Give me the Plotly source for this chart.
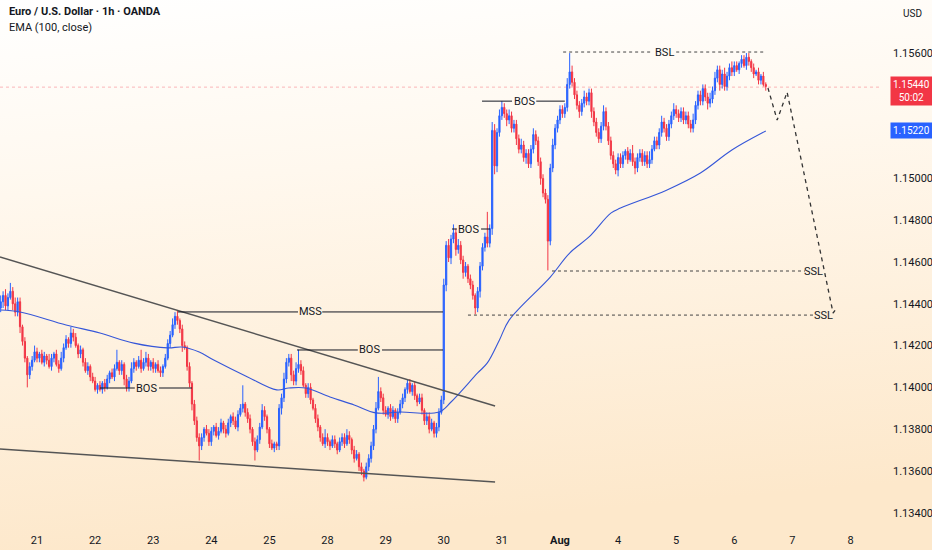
import base64
import plotly.graph_objects as go

# hourly candles, index 0 = 21 Jul 00:00, weekends removed
FIRST_OPEN = 1.1438
CLOSE = [
    # 18 Jul tail (i = -15 .. -1)
    1.1441, 1.1444, 1.1439, 1.1443, 1.1446, 1.1440, 1.1436, 1.1441, 1.1429, 1.1422, 1.1414, 1.1406, 1.1410, 1.1413, 1.1417,
    # 21
    1.1414, 1.1416, 1.1412, 1.1415, 1.1413, 1.1410, 1.1414, 1.1416, 1.1411, 1.1409, 1.1414, 1.1419,
    1.1423, 1.1421, 1.1426, 1.1424, 1.1420, 1.1416, 1.1418, 1.1412, 1.1408, 1.1410, 1.1405, 1.1403,
    # 22
    1.1399, 1.1401, 1.1399, 1.1402, 1.1400, 1.1404, 1.1407, 1.1405, 1.1409, 1.1412, 1.1408, 1.1411,
    1.1404, 1.1400, 1.1403, 1.1409, 1.1412, 1.1410, 1.1413, 1.1409, 1.1412, 1.1414, 1.1410, 1.1412,
    # 23
    1.1409, 1.1411, 1.1408, 1.1407, 1.1410, 1.1414, 1.1421, 1.1425, 1.1430, 1.1434, 1.1432, 1.1428,
    1.1420, 1.1419, 1.1410, 1.1402, 1.1392, 1.1384, 1.1376, 1.1372, 1.1376, 1.1380, 1.1378, 1.1374,
    # 24
    1.1379, 1.1381, 1.1377, 1.1379, 1.1383, 1.1380, 1.1378, 1.1383, 1.1386, 1.1384, 1.1381, 1.1387,
    1.1390, 1.1392, 1.1388, 1.1385, 1.1380, 1.1374, 1.1370, 1.1375, 1.1381, 1.1389, 1.1386, 1.1380,
    # 25
    1.1373, 1.1371, 1.1373, 1.1372, 1.1390, 1.1395, 1.1404, 1.1412, 1.1414, 1.1406, 1.1403, 1.1409,
    1.1411, 1.1408, 1.1401, 1.1397, 1.1400, 1.1394, 1.1390, 1.1385, 1.1381, 1.1376, 1.1373, 1.1376,
    # 28
    1.1374, 1.1372, 1.1375, 1.1373, 1.1370, 1.1374, 1.1376, 1.1373, 1.1377, 1.1375, 1.1370, 1.1366,
    1.1368, 1.1362, 1.1360, 1.1357, 1.1362, 1.1366, 1.1372, 1.1380, 1.1390, 1.1398, 1.1395, 1.1389,
    # 29
    1.1387, 1.1390, 1.1386, 1.1389, 1.1385, 1.1388, 1.1392, 1.1395, 1.1399, 1.1402, 1.1398, 1.1401,
    1.1396, 1.1393, 1.1395, 1.1389, 1.1384, 1.1386, 1.1380, 1.1383, 1.1378, 1.1381, 1.1388, 1.1394,
    # 30
    1.1449, 1.1468, 1.1462, 1.1471, 1.1474, 1.1466, 1.1468, 1.1461, 1.1455, 1.1458, 1.1452, 1.1449,
    1.1444, 1.1438, 1.1446, 1.1458, 1.1467, 1.1472, 1.1469, 1.1476, 1.1523, 1.1506, 1.1522, 1.1530,
    # 31
    1.1534, 1.1531, 1.1528, 1.1530, 1.1524, 1.1526, 1.1519, 1.1514, 1.1516, 1.1510, 1.1512, 1.1507,
    1.1514, 1.1521, 1.1518, 1.1508, 1.1500, 1.1493, 1.1490, 1.1470, 1.1505, 1.1516, 1.1524, 1.1528,
    # Aug 1
    1.1533, 1.1531, 1.1534, 1.1545, 1.1551, 1.1546, 1.1540, 1.1535, 1.1532, 1.1536, 1.1539, 1.1537,
    1.1541, 1.1532, 1.1527, 1.1522, 1.1519, 1.1525, 1.1532, 1.1525, 1.1518, 1.1511, 1.1507, 1.1504,
    # 4
    1.1510, 1.1507, 1.1511, 1.1513, 1.1509, 1.1512, 1.1508, 1.1505, 1.1510, 1.1512, 1.1508, 1.1511,
    1.1507, 1.1509, 1.1514, 1.1518, 1.1516, 1.1522, 1.1527, 1.1524, 1.1520, 1.1526, 1.1530, 1.1533,
    # 5
    1.1531, 1.1529, 1.1532, 1.1528, 1.1530, 1.1526, 1.1524, 1.1528, 1.1535, 1.1540, 1.1537, 1.1543,
    1.1539, 1.1536, 1.1538, 1.1542, 1.1548, 1.1552, 1.1545, 1.1550, 1.1544, 1.1549, 1.1553, 1.1551,
    # 6
    1.1554, 1.1552, 1.1555, 1.1557, 1.1554, 1.1558, 1.1556, 1.1553, 1.1550, 1.1551, 1.1547, 1.1549,
    1.1545, 1.1544,
]

# wick lengths in pips above / below the body
UP_WICK = [
    3, 2, 3, 2, 4, 2, 3, 2, 2, 1, 2, 1, 2, 2, 3,
    2, 1, 2, 2, 1, 3, 2, 1, 2, 2, 3, 2, 2, 1, 3, 2, 2, 1, 2, 1, 2, 2, 1, 2,
    2, 1, 2, 1, 2, 2, 1, 2, 2, 6, 1, 2, 1, 2, 2, 3, 2, 1, 2, 5, 2, 3, 2, 1,
    2, 1, 2, 2, 1, 2, 2, 2, 3, 2, 3, 1, 2, 2, 1, 2, 1, 2, 2, 2, 2, 1, 2, 2,
    2, 1, 2, 2, 2, 1, 2, 2, 1, 2, 2, 2, 2, 9, 1, 2, 2, 1, 2, 2, 2, 3, 2, 1,
    1, 2, 1, 1, 2, 2, 3, 2, 2, 2, 2, 3, 7, 2, 2, 1, 2, 2, 1, 2, 2, 1, 2, 4,
    2, 1, 2, 2, 1, 2, 2, 2, 3, 2, 1, 2, 2, 1, 2, 1, 2, 2, 2, 2, 3, 7, 2, 2,
    2, 1, 2, 2, 1, 2, 2, 2, 1, 2, 2, 1, 2, 1, 2, 2, 1, 2, 2, 2, 1, 2, 2, 2,
    3, 2, 3, 2, 4, 2, 3, 2, 2, 2, 1, 2, 2, 1, 2, 2, 2, 2, 12, 2, 4, 3, 2, 3,
    3, 2, 2, 3, 2, 2, 2, 2, 3, 2, 2, 2, 2, 3, 2, 2, 2, 2, 2, 2, 2, 3, 2, 2,
    2, 2, 2, 3, 9, 3, 2, 2, 2, 2, 3, 2, 2, 2, 2, 2, 2, 2, 3, 2, 2, 2, 2, 2,
    2, 2, 2, 1, 2, 2, 4, 2, 2, 2, 2, 2, 2, 4, 2, 2, 2, 2, 3, 2, 2, 2, 2, 3,
    2, 2, 2, 2, 2, 2, 2, 3, 2, 2, 2, 2, 2, 2, 3, 2, 3, 2, 2, 2, 3, 2, 2, 3,
    2, 2, 1, 2, 2, 2, 2, 1, 2, 1, 2, 1, 2, 1,
]
DN_WICK = [
    2, 3, 2, 2, 1, 3, 2, 2, 3, 2, 2, 6, 2, 2, 1,
    2, 2, 1, 2, 2, 1, 2, 2, 1, 2, 1, 2, 1, 2, 2, 2, 1, 2, 2, 2, 1, 2, 2, 1,
    1, 2, 1, 2, 2, 1, 2, 1, 2, 1, 2, 2, 3, 2, 2, 1, 2, 2, 1, 2, 1, 2, 2, 2,
    2, 2, 1, 2, 2, 1, 1, 2, 1, 2, 2, 2, 3, 1, 2, 2, 3, 2, 2, 7, 2, 2, 1, 2,
    2, 2, 1, 2, 1, 2, 2, 1, 2, 2, 1, 2, 1, 2, 2, 2, 2, 2, 5, 1, 2, 1, 2, 2,
    2, 1, 2, 2, 2, 3, 2, 2, 2, 3, 2, 2, 2, 2, 1, 2, 2, 2, 1, 2, 2, 2, 1, 2,
    2, 2, 1, 2, 2, 1, 2, 2, 1, 2, 2, 2, 1, 2, 2, 2, 1, 2, 2, 2, 2, 1, 2, 2,
    1, 2, 2, 1, 2, 2, 1, 2, 2, 2, 1, 2, 2, 2, 1, 2, 2, 2, 2, 1, 2, 2, 2, 1,
    2, 3, 2, 3, 2, 3, 2, 2, 3, 2, 2, 2, 2, 3, 2, 3, 2, 2, 2, 2, 3, 4, 3, 2,
    2, 2, 3, 2, 2, 2, 3, 2, 2, 2, 3, 2, 2, 2, 2, 2, 3, 2, 2, 14, 2, 2, 2, 2,
    2, 2, 2, 2, 2, 2, 2, 2, 3, 2, 2, 2, 2, 3, 2, 2, 2, 2, 2, 2, 2, 2, 2, 2,
    3, 2, 2, 2, 2, 1, 2, 3, 2, 2, 2, 2, 2, 2, 2, 1, 2, 2, 2, 2, 2, 2, 2, 2,
    2, 2, 2, 2, 2, 2, 2, 2, 2, 2, 2, 2, 2, 3, 2, 2, 2, 2, 3, 2, 2, 2, 2, 2,
    2, 1, 2, 2, 1, 2, 2, 2, 2, 1, 2, 2, 1, 2,
]

# EMA(100) at a few candle positions
EMA_X = [-15, -7, 12, 26, 40, 54, 60, 67, 73, 87, 99, 104, 111, 121, 131, 140, 150, 166,
         171, 182, 186, 191, 195, 212, 220, 228, 237, 241, 260, 274, 287, 301]
EMA_Y = [1.14370, 1.14361, 1.14299, 1.14260, 1.14212, 1.14189, 1.14193, 1.14169, 1.14131,
         1.14050, 1.13988, 1.13997, 1.13997, 1.13954, 1.13916, 1.13878, 1.13882, 1.13882,
         1.13930, 1.14069, 1.14117, 1.14227, 1.14322, 1.14528, 1.14643, 1.14720, 1.14834,
         1.14858, 1.14944, 1.15026, 1.15136, 1.15227]

DAY_LABELS = ["21", "22", "23", "24", "25", "28", "29", "30", "31", "<b>Aug</b>", "4", "5", "6", "7", "8"]
PRICE_TICKS = [1.134, 1.136, 1.138, 1.140, 1.142, 1.144, 1.146, 1.148, 1.150, 1.156]

# drawings (candle index, price)
TREND_X = [-15.3, 189.2]
TREND_UPPER = [1.14624, 1.13911]
TREND_LOWER = [1.13705, 1.13547]

LEVEL_NAMES = ["BOS", "MSS", "BOS", "BOS", "BOS", "BSL", "SSL", "SSL"]
LEVEL_PRICES = [1.13997, 1.14361, 1.14179, 1.14758, 1.15370, 1.15605, 1.14557, 1.14346]
LEVEL_START = [26.0, 58.2, 107.4, 171.4, 183.8, 217.3, 212.7, 178.0]
LEVEL_END = [64.0, 167.7, 167.7, 187.1, 218.0, 300.7, 317.2, 321.4]
LEVEL_LABEL_AT = [45.4, 112.8, 137.5, 178.4, 201.2, 259.0, 320.6, 325.0]
LEVEL_DASHED = [False, False, False, False, False, True, True, True]

PROJ_X = [301.9, 305.7, 309.8, 328.8, 330.4]
PROJ_Y = [1.15433, 1.15279, 1.15413, 1.14356, 1.14380]

LAST_PRICE = 1.15437
UP, DOWN = "#2962ff", "#f23645"
INK = "#131722"
FONT = "Roboto"

idx = list(range(-15, -15 + len(CLOSE)))
opens = [FIRST_OPEN] + CLOSE[:-1]
highs = [max(o, c) + u / 10000 for o, c, u in zip(opens, CLOSE, UP_WICK)]
lows = [min(o, c) - d / 10000 for o, c, d in zip(opens, CLOSE, DN_WICK)]

fig = go.Figure()
fig.add_trace(go.Candlestick(
    x=idx, open=opens, high=highs, low=lows, close=CLOSE,
    increasing=dict(line=dict(color=UP, width=1), fillcolor=UP),
    decreasing=dict(line=dict(color=DOWN, width=1), fillcolor=DOWN),
    whiskerwidth=0, showlegend=False, hoverinfo="skip"))

fig.add_trace(go.Scatter(x=EMA_X, y=EMA_Y, mode="lines", line=dict(color="#3556d8", width=1.1, shape="spline"),
                         showlegend=False, hoverinfo="skip"))

for ys in (TREND_UPPER, TREND_LOWER):
    fig.add_trace(go.Scatter(x=TREND_X, y=ys, mode="lines", line=dict(color="#555555", width=1.5),
                             showlegend=False, hoverinfo="skip"))

fig.add_trace(go.Scatter(x=PROJ_X, y=PROJ_Y, mode="lines", line=dict(color="#333333", width=1.3, dash="4px,4px"),
                         showlegend=False, hoverinfo="skip"))

# level lines with their labels
for name, p, x0, x1, lx, dashed in zip(LEVEL_NAMES, LEVEL_PRICES, LEVEL_START, LEVEL_END,
                                        LEVEL_LABEL_AT, LEVEL_DASHED):
    style = dict(color="#444444", width=1, dash="3px,3px") if dashed else dict(color=INK, width=1)
    if lx < x1:
        segs = [(x0, lx - 5), (lx + 5, x1)]
    else:
        segs = [(x0, x1)]
    for a, b in segs:
        fig.add_shape(type="line", x0=a, x1=b, y0=p, y1=p, line=style)
    fig.add_annotation(x=lx, y=p, text=name, showarrow=False, font=dict(family=FONT, size=11, color=INK))

# current price line
fig.add_shape(type="line", xref="paper", x0=0, x1=1, y0=LAST_PRICE, y1=LAST_PRICE,
              line=dict(color="rgba(242,54,69,0.35)", width=1, dash="dot"))

PW, PH = 882, 528


def px(x):
    return x / PW


def py(y):
    return 1 - y / PH


fig.add_annotation(xref="paper", yref="paper", x=px(7), y=py(12), xanchor="left", yanchor="middle",
                   text="<b>Euro / U.S. Dollar · 1h · OANDA</b>", showarrow=False,
                   font=dict(family=FONT, size=11, color=INK))
fig.add_annotation(xref="paper", yref="paper", x=px(7), y=py(28), xanchor="left", yanchor="middle",
                   text="EMA (100, close)", showarrow=False, font=dict(family=FONT, size=11, color=INK))
fig.add_annotation(xref="paper", yref="paper", x=px(912), y=py(13), xanchor="center", yanchor="middle",
                   text="USD", showarrow=False, font=dict(family=FONT, size=10, color=INK))
fig.add_annotation(xref="paper", yref="paper", x=px(911), y=py(91), xanchor="center", yanchor="middle",
                   text="1.15440<br>50:02", showarrow=False, bgcolor=DOWN, borderpad=2,
                   font=dict(family=FONT, size=10, color="white"))
fig.add_annotation(xref="paper", yref="paper", x=px(911), y=py(131), xanchor="center", yanchor="middle",
                   text="1.15220", showarrow=False, bgcolor=UP, borderpad=2,
                   font=dict(family=FONT, size=10, color="white"))

# soft white-to-peach background
svg = ('<svg xmlns="http://www.w3.org/2000/svg" width="100" height="100" preserveAspectRatio="none">'
       '<defs><linearGradient id="g" x1="0" y1="0" x2="0.15" y2="1">'
       '<stop offset="0" stop-color="#ffffff"/><stop offset="0.35" stop-color="#fff8ee"/>'
       '<stop offset="1" stop-color="#fde8cb"/></linearGradient></defs>'
       '<rect width="100" height="100" fill="url(#g)"/></svg>')
fig.add_layout_image(source="data:image/svg+xml;base64," + base64.b64encode(svg.encode()).decode(),
                     xref="paper", yref="paper", x=0, y=1, sizex=932 / PW, sizey=550 / PH,
                     xanchor="left", yanchor="top", sizing="stretch", layer="below")

fig.update_layout(
    width=932, height=550, margin=dict(l=0, r=932 - PW, t=0, b=550 - PH),
    paper_bgcolor="#ffffff", plot_bgcolor="rgba(0,0,0,0)",
    font=dict(family=FONT, size=11, color=INK),
    xaxis=dict(range=[-15.28, 349.0], rangeslider=dict(visible=False), showgrid=False, zeroline=False,
               showline=False, ticks="", tickvals=[d * 24 for d in range(len(DAY_LABELS))],
               ticktext=DAY_LABELS, tickfont=dict(size=11, color=INK), ticklabelstandoff=4),
    yaxis=dict(range=[1.13327, 1.15854], side="right", showgrid=False, zeroline=False, showline=False,
               ticks="", tickvals=PRICE_TICKS, tickformat=".5f", tickfont=dict(size=11, color=INK),
               ticklabelstandoff=10),
    hovermode=False,
)

# drop the page's default body margin so the figure sits at the window's corner
fig.write_html("out.html", config={"displayModeBar": False},
               post_script="document.body.style.margin='0';")
